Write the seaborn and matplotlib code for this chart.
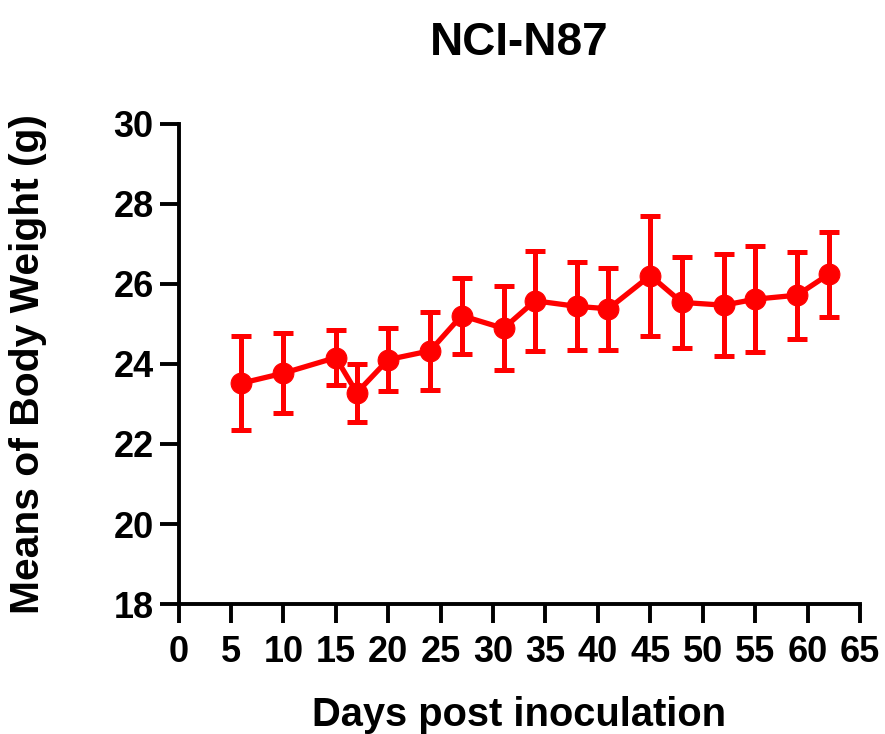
import seaborn as sns
import pandas as pd
from matplotlib import pyplot as plt

# body weight data
days = [6, 10, 15, 17, 20, 24, 27, 31, 34, 38, 41, 45, 48, 52, 55, 59, 62]
mean_weight = [23.52, 23.77, 24.16, 23.28, 24.11, 24.33, 25.21, 24.89, 25.58,
               25.44, 25.38, 26.21, 25.54, 25.47, 25.62, 25.72, 26.24]
sd_weight = [1.18, 1.00, 0.68, 0.72, 0.79, 0.97, 0.95, 1.05, 1.25,
             1.10, 1.03, 1.50, 1.14, 1.28, 1.32, 1.09, 1.07]

x_ticks = list(range(0, 70, 5))
y_ticks = list(range(18, 32, 2))

df = pd.DataFrame({'day': days, 'weight': mean_weight, 'sd': sd_weight})

sns.set_style('ticks')
plt.rcParams['font.family'] = ['Liberation Sans', 'DejaVu Sans']
plt.rcParams['font.weight'] = 'bold'
plt.rcParams['text.color'] = 'black'
plt.rcParams['axes.labelcolor'] = 'black'

fig = plt.figure(figsize=(8.85, 7.34), dpi=100)
ax = fig.add_axes([0.2017, 0.1771, 0.7701, 0.654])

red = '#ff0000'
# error bars first so the line sits on top
ax.errorbar(df['day'], df['weight'], yerr=df['sd'], fmt='none',
            ecolor=red, elinewidth=3.6, capsize=7, capthick=3.6, zorder=2)
sns.lineplot(data=df, x='day', y='weight', ax=ax, color=red, linewidth=3.8,
             marker='o', markersize=15, markeredgecolor=red, zorder=3)

ax.set_xlim(0, 65)
ax.set_ylim(18, 30)
ax.set_xticks(x_ticks)
ax.set_yticks(y_ticks)

sns.despine(ax=ax)
for side in ['left', 'bottom']:
    ax.spines[side].set_linewidth(2.8)
    ax.spines[side].set_color('black')
ax.tick_params(axis='both', length=14, width=2.8, color='black',
               labelsize=26, labelcolor='black')
ax.tick_params(axis='x', pad=8)
ax.tick_params(axis='y', pad=4)
for lab in ax.get_xticklabels() + ax.get_yticklabels():
    lab.set_fontweight('bold')

ax.set_xlabel('Days post inoculation', fontsize=28.7, fontweight='bold', labelpad=19)
ax.set_ylabel('Means of Body Weight (g)', fontsize=29.3, fontweight='bold', labelpad=48)
ax.set_title('NCI-N87', fontsize=33, fontweight='bold', pad=50)

fig.savefig('out.png', dpi=100)
